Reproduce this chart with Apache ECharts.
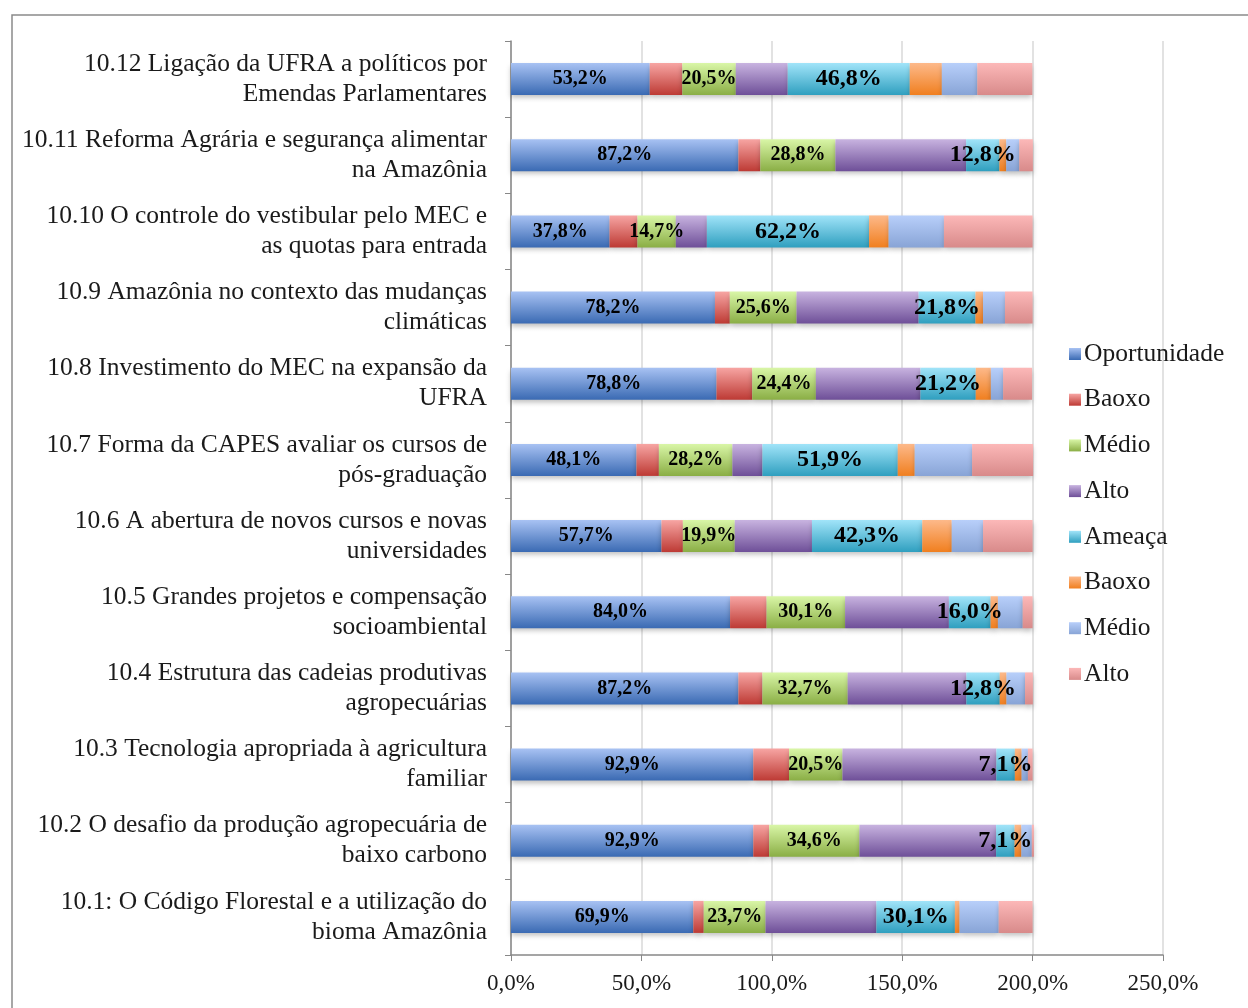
<!DOCTYPE html>
<html>
<head>
<meta charset="utf-8">
<script src="https://cdn.jsdelivr.net/npm/echarts@6/dist/echarts.min.js"></script>
<style>
html,body{margin:0;padding:0;background:#fff;}
#chart{width:1248px;height:1008px;}
</style>
</head>
<body>
<div id="chart"></div>
<script>
const categories = [
  "10.1: O Código Florestal e a utilização do\nbioma Amazônia",
  "10.2 O desafio da produção agropecuária de\nbaixo carbono",
  "10.3 Tecnologia apropriada à agricultura\nfamiliar",
  "10.4 Estrutura das cadeias produtivas\nagropecuárias",
  "10.5 Grandes projetos e compensação\nsocioambiental",
  "10.6 A abertura de novos cursos e novas\nuniversidades",
  "10.7 Forma da CAPES avaliar os cursos de\npós-graduação",
  "10.8 Investimento do MEC na expansão da\nUFRA",
  "10.9 Amazônia no contexto das mudanças\nclimáticas",
  "10.10 O controle do vestibular pelo MEC e\nas quotas para entrada",
  "10.11 Reforma Agrária e segurança alimentar\nna Amazônia",
  "10.12 Ligação da UFRA a políticos por\nEmendas Parlamentares"
];
const seriesNames = ["Oportunidade","Baoxo","Médio","Alto","Ameaça","Baoxo","Médio","Alto"];

const oportunidade = [69.9, 92.9, 92.9, 87.2, 84.0, 57.7, 48.1, 78.8, 78.2, 37.8, 87.2, 53.2];
const opBaixo      = [4.0, 6.1, 13.7, 9.2, 14.0, 8.2, 8.6, 13.7, 5.7, 10.7, 8.4, 12.5];
const opMedio      = [23.7, 34.6, 20.5, 32.7, 30.1, 19.9, 28.2, 24.4, 25.6, 14.7, 28.8, 20.5];
const opAlto       = [42.5, 52.4, 59.0, 45.5, 39.8, 29.6, 11.5, 40.1, 46.8, 11.9, 50.1, 19.9];
const ameaca       = [30.1, 7.1, 7.1, 12.8, 16.0, 42.3, 51.9, 21.2, 21.8, 62.2, 12.8, 46.8];
const amBaixo      = [1.8, 2.6, 2.6, 2.6, 2.8, 11.3, 6.5, 5.8, 2.9, 7.5, 2.6, 12.3];
const amMedio      = [15.0, 4.0, 2.4, 7.1, 9.5, 12.0, 22.0, 4.7, 8.4, 21.2, 5.0, 13.6];
const amAlto       = [13.0, 0.8, 1.8, 3.0, 3.8, 19.0, 23.4, 11.1, 10.6, 34.0, 5.2, 21.1];

const xTicks = [0, 50, 100, 150, 200, 250];

const seriesData = [oportunidade, opBaixo, opMedio, opAlto, ameaca, amBaixo, amMedio, amAlto];
const gradients = [
  ["#a8c2f3", "#3a6ab3"],
  ["#f7a5a3", "#bd3a34"],
  ["#d9f6a7", "#8aae45"],
  ["#c8b3e0", "#6e4f98"],
  ["#a1e4f9", "#2f9fbf"],
  ["#fdb98a", "#f07f1f"],
  ["#b8cffa", "#88a4d6"],
  ["#fcb8b8", "#d88a8a"]
];
const labelSizes = {0: 20, 2: 20, 4: 24};
const fmt = v => v.toFixed(1).replace('.', ',') + '%';
const SERIF = "'Liberation Serif','DejaVu Serif',serif";
// unique internal names (zero-width suffix) so repeated legend names stay separate
const uniqueNames = seriesNames.map((n, i) => n + '\u200B'.repeat(i));

const series = seriesData.map((d, i) => ({
  name: uniqueNames[i],
  type: 'bar',
  stack: 'total',
  barWidth: 32,
  data: d,
  itemStyle: {
    color: new echarts.graphic.LinearGradient(0, 0, 0, 1, [
      {offset: 0, color: gradients[i][0]},
      {offset: 1, color: gradients[i][1]}
    ]),
    shadowColor: 'rgba(0,0,0,0.25)',
    shadowBlur: 5,
    shadowOffsetY: 3
  },
  label: labelSizes[i] ? {
    show: true,
    position: 'inside',
    formatter: p => fmt(p.value),
    fontFamily: SERIF,
    fontWeight: 'bold',
    fontSize: labelSizes[i],
    color: '#000'
  } : {show: false},
  labelLayout: {hideOverlap: false}
}));

const chart = echarts.init(document.getElementById('chart'), null, {renderer: 'canvas'});
chart.setOption({
  animation: false,
  backgroundColor: '#fff',
  graphic: [{
    type: 'rect',
    shape: {x: 12, y: 15, width: 1300, height: 1100},
    style: {fill: 'none', stroke: '#8a8a8a', lineWidth: 1.5},
    silent: true,
    z: -1
  }],
  legend: {
    orient: 'vertical',
    left: 1064,
    top: 336,
    itemWidth: 12,
    itemHeight: 12,
    itemGap: 19.7,
    icon: 'rect',
    data: uniqueNames,
    formatter: n => n.replace(/\u200B/g, ''),
    textStyle: {fontFamily: SERIF, fontSize: 25.5, lineHeight: 26, color: '#1a1a1a', padding: [0, 0, 0, -2]}
  },
  grid: {left: 511, right: 85, top: 41, bottom: 53, containLabel: false},
  xAxis: {
    type: 'value',
    min: xTicks[0],
    max: xTicks[xTicks.length - 1],
    interval: 50,
    axisLine: {show: true, lineStyle: {color: '#888', width: 1.5}},
    axisTick: {show: true, length: 6, lineStyle: {color: '#888'}},
    splitLine: {show: true, lineStyle: {color: '#d9d9d9', width: 1.5}},
    axisLabel: {
      formatter: v => fmt(v),
      fontFamily: SERIF,
      fontSize: 23,
      color: '#1a1a1a',
      margin: 17
    }
  },
  yAxis: {
    type: 'category',
    data: categories,
    axisLine: {show: true, lineStyle: {color: '#888', width: 1.5}},
    axisTick: {show: true, length: 6, lineStyle: {color: '#888'}},
    axisLabel: {
      fontFamily: SERIF,
      fontSize: 25.5,
      lineHeight: 30,
      color: '#1a1a1a',
      margin: 24,
      align: 'right'
    }
  },
  series: series
});
</script>
</body>
</html>
